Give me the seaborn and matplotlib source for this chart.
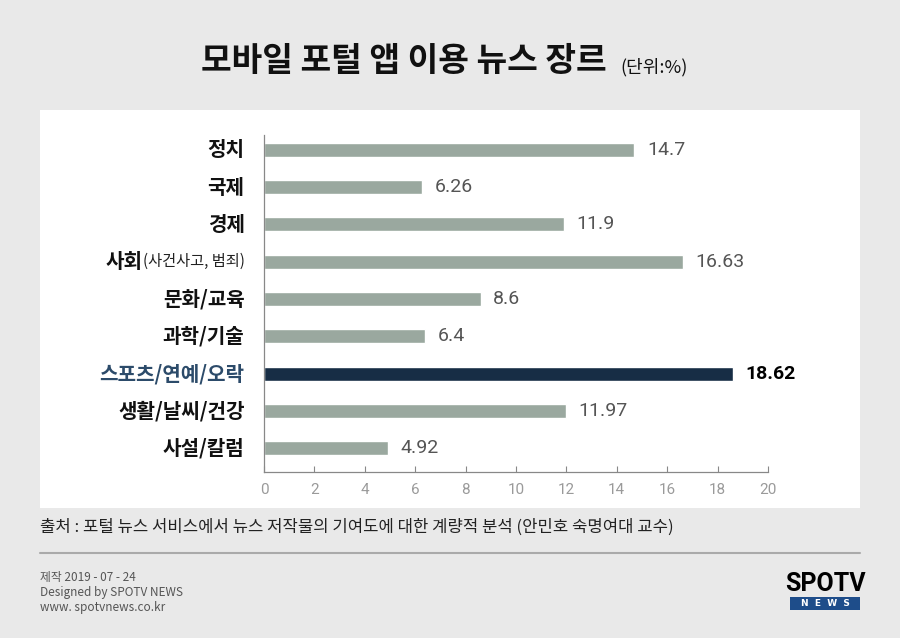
import matplotlib
matplotlib.use("Agg")
import matplotlib.pyplot as plt
from matplotlib.patches import Rectangle
import seaborn as sns
import pandas as pd

# data
categories = ["정치", "국제", "경제", "사회", "문화/교육", "과학/기술",
              "스포츠/연예/오락", "생활/날씨/건강", "사설/칼럼"]
sub_labels = {"사회": "(사건사고, 범죄)"}
values = [14.7, 6.26, 11.9, 16.63, 8.6, 6.4, 18.62, 11.97, 4.92]
value_text = ["14.7", "6.26", "11.9", "16.63", "8.6", "6.4", "18.62", "11.97", "4.92"]
highlight = "스포츠/연예/오락"
x_ticks = [0, 2, 4, 6, 8, 10, 12, 14, 16, 18, 20]

title = "모바일 포털 앱 이용 뉴스 장르"
unit = "(단위:%)"
source = "출처 : 포털 뉴스 서비스에서 뉴스 저작물의 기여도에 대한 계량적 분석 (안민호 숙명여대 교수)"
footer = ["제작 2019 - 07 - 24", "Designed by SPOTV NEWS", "www. spotvnews.co.kr"]

BG = "#e9e9e9"
BAR = "#9aa89f"
DARK = "#172d45"
LABEL_HL = "#2c4b6a"

sns.set_theme(style="white")
plt.rcParams["font.family"] = ["Noto Sans CJK KR", "DejaVu Sans"]

df = pd.DataFrame({"cat": categories, "val": values})
df["grp"] = ["hl" if c == highlight else "base" for c in categories]

fig = plt.figure(figsize=(9, 6.38), dpi=100, facecolor=BG)

# white panel behind the chart
fig.patches.append(Rectangle((40 / 900, 1 - 508 / 638), 820 / 900, 398 / 638,
                             transform=fig.transFigure, facecolor="white",
                             edgecolor="none", zorder=-1))

ax = fig.add_axes([264 / 900, 1 - 472 / 638, 504 / 900, 337 / 638])
ax.set_facecolor("none")
ax.set_zorder(2)

sns.barplot(data=df, x="val", y="cat", hue="grp", orient="h",
            palette={"base": BAR, "hl": DARK}, width=0.376,
            legend=False, ax=ax, saturation=1)

ax.set_xlim(0, 20)
ax.set_ylim(8.64, -0.40)
ax.set_xticks(x_ticks)
ax.set_xticklabels([str(t) for t in x_ticks], family="Roboto",
                   color="#9a9a9a", fontsize=11)
ax.tick_params(axis="x", direction="in", length=4, width=0.8, color="#888888",
               pad=8, bottom=True)
ax.set_yticks([])
ax.set_xlabel("")
ax.set_ylabel("")
for s in ["top", "right"]:
    ax.spines[s].set_visible(False)
for s in ["left", "bottom"]:
    ax.spines[s].set_color("#888888")
    ax.spines[s].set_linewidth(0.9)

# value labels
for i, (v, t) in enumerate(zip(values, value_text)):
    hl = categories[i] == highlight
    ax.annotate(t, (v, i), xytext=(9, 0), textcoords="offset points",
                va="center", ha="left", family="Roboto", fontsize=14,
                fontweight="bold" if hl else "normal",
                color="black" if hl else "#555555")

# category labels
fig.canvas.draw()
renderer = fig.canvas.get_renderer()
for i, c in enumerate(categories):
    off = -14
    if c in sub_labels:
        sub = ax.annotate(sub_labels[c], (0, i), xycoords=("axes fraction", "data"),
                          xytext=(off, 0), textcoords="offset points",
                          ha="right", va="center", fontsize=11,
                          fontweight="light", color="#222222")
        w = sub.get_window_extent(renderer).width * 72 / fig.dpi
        off = off - w
    ax.annotate(c, (0, i), xycoords=("axes fraction", "data"),
                xytext=(off, 0), textcoords="offset points",
                ha="right", va="center", fontsize=14.5, fontweight="bold",
                color=LABEL_HL if c == highlight else "#111111")

# title
fig.text(607 / 900, 1 - 61 / 638, title, ha="right", va="center",
         fontsize=24, fontweight="bold", color="#111111")
fig.text(620 / 900, 1 - 67 / 638, unit, ha="left", va="center",
         fontsize=13, color="#111111")

# source, separator and footer
fig.text(40 / 900, 1 - 527 / 638, source, ha="left", va="center",
         fontsize=12, color="#222222")
fig.add_artist(plt.Line2D([40 / 900, 860 / 900], [1 - 553 / 638, 1 - 553 / 638],
                          transform=fig.transFigure, color="#aaaaaa", lw=1.5))
for k, line in enumerate(footer):
    fig.text(40 / 900, 1 - (578 + 14.5 * k) / 638, line, ha="left", va="center",
             fontsize=8.5, color="#555555")

# logo
fig.text(825 / 900, 1 - 584 / 638, "SPOTV", ha="center", va="center",
         family="Roboto", fontsize=18, fontweight="bold", color="black")
fig.patches.append(Rectangle((790 / 900, 1 - 610 / 638), 70 / 900, 13 / 638,
                             transform=fig.transFigure, facecolor="#1e4d8a",
                             edgecolor="none"))
fig.text(825 / 900, 1 - 603.5 / 638, "N  E  W  S", ha="center", va="center",
         family="DejaVu Sans", fontsize=6.5, fontweight="bold", color="white")

fig.savefig("out.png", dpi=100, facecolor=BG)
